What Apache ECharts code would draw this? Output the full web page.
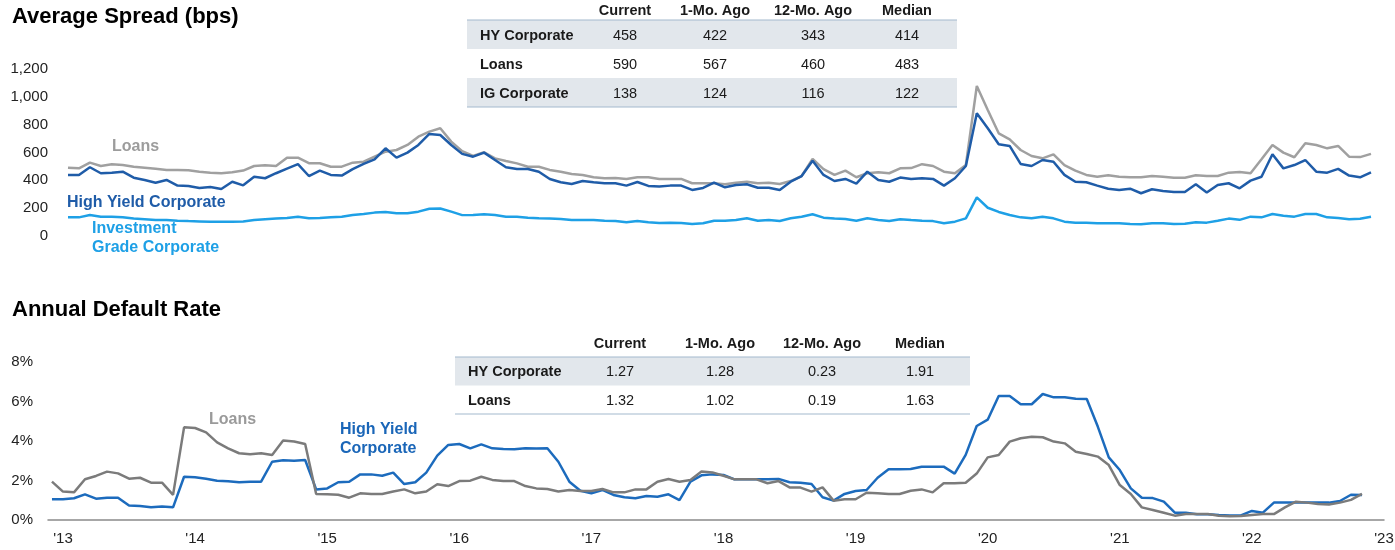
<!DOCTYPE html>
<html>
<head>
<meta charset="utf-8">
<script src="https://cdn.jsdelivr.net/npm/echarts@6.0.0/dist/echarts.min.js"></script>
<style>
  body { margin: 0; background: #fff; }
  #main { width: 1395px; height: 550px; }
</style>
</head>
<body>
<div id="main"></div>
<script>
// spreads, monthly (bps)
const hySpread = [439, 439, 494, 451, 455, 462, 419, 403, 383, 403, 362, 360, 345, 352, 338, 390, 364, 426, 415, 451,
  484, 516, 431, 470, 439, 434, 480, 518, 551, 630, 563, 599, 654, 733, 726, 654, 590, 570, 599, 546,
  494, 482, 482, 462, 410, 386, 374, 395, 386, 379, 379, 362, 388, 360, 355, 362, 362, 331, 345, 383,
  350, 367, 372, 347, 347, 331, 390, 431, 541, 439, 395, 410, 376, 462, 403, 390, 420, 409, 415, 410,
  362, 415, 503, 882, 774, 659, 647, 518, 503, 546, 534, 439, 390, 386, 362, 340, 331, 340, 307, 336,
  324, 316, 316, 372, 312, 367, 379, 343, 398, 426, 587, 486, 510, 546, 462, 455, 482, 434, 422, 458]
const loansSpread = [491, 486, 527, 503, 515, 510, 498, 491, 484, 475, 475, 472, 462, 455, 451, 458, 470, 503, 508, 503,
  563, 563, 523, 523, 498, 498, 527, 534, 570, 606, 618, 654, 714, 750, 774, 678, 610, 576, 602, 558,
  539, 522, 498, 498, 475, 462, 446, 439, 422, 415, 417, 410, 422, 422, 410, 410, 410, 379, 379, 379,
  372, 383, 390, 379, 383, 374, 395, 431, 554, 480, 439, 470, 422, 451, 458, 451, 486, 488, 516, 503,
  462, 451, 510, 1078, 906, 738, 695, 618, 575, 558, 587, 510, 470, 439, 426, 436, 426, 422, 422, 431,
  426, 419, 419, 436, 431, 431, 455, 460, 451, 551, 654, 599, 566, 666, 654, 630, 647, 570, 567, 590]
const igSpread = [134, 134, 151, 139, 139, 134, 125, 120, 115, 115, 110, 107, 105, 103, 103, 103, 105, 115, 120, 125,
  129, 139, 127, 129, 134, 139, 151, 158, 168, 173, 163, 163, 175, 196, 198, 175, 150, 151, 156, 151,
  139, 139, 132, 127, 125, 122, 115, 115, 115, 110, 108, 98, 108, 98, 93, 96, 93, 86, 91, 110,
  110, 115, 127, 110, 115, 108, 127, 139, 156, 132, 125, 122, 110, 127, 115, 108, 121, 115, 110, 107,
  91, 103, 127, 278, 203, 173, 151, 134, 127, 139, 127, 103, 96, 96, 91, 91, 91, 86, 84, 91,
  91, 86, 88, 98, 96, 110, 125, 116, 139, 134, 158, 146, 139, 158, 158, 134, 129, 120, 124, 138]

// default rates, monthly (%), first point Dec '12
const hyDefault = [1.05, 1.05, 1.10, 1.30, 1.08, 1.13, 1.13, 0.73, 0.71, 0.64, 0.68, 0.64, 2.19, 2.16, 2.09, 1.99, 1.96, 1.91, 1.94, 1.94,
  2.95, 3.02, 3.00, 3.04, 1.55, 1.60, 1.91, 1.94, 2.31, 2.31, 2.24, 2.40, 1.82, 1.91, 2.40, 3.26, 3.80, 3.85, 3.63, 3.83,
  3.63, 3.59, 3.58, 3.63, 3.62, 3.63, 2.95, 1.94, 1.48, 1.35, 1.52, 1.27, 1.15, 1.10, 1.22, 1.18, 1.30, 1.01, 1.94, 2.26,
  2.31, 2.28, 2.06, 2.06, 2.06, 2.06, 2.08, 1.91, 1.89, 1.82, 1.15, 0.98, 1.32, 1.47, 1.52, 2.14, 2.57, 2.57, 2.58, 2.70,
  2.70, 2.70, 2.35, 3.30, 4.76, 5.08, 6.28, 6.28, 5.86, 5.86, 6.38, 6.21, 6.21, 6.14, 6.13, 4.73, 3.17, 2.53, 1.60, 1.13,
  1.11, 0.93, 0.37, 0.37, 0.29, 0.29, 0.25, 0.23, 0.23, 0.46, 0.37, 0.88, 0.88, 0.88, 0.88, 0.88, 0.88, 0.96, 1.28, 1.27]
const loansDefault = [1.94, 1.44, 1.40, 2.06, 2.23, 2.45, 2.36, 2.09, 2.14, 1.89, 1.89, 1.27, 4.69, 4.66, 4.44, 3.93, 3.63, 3.38, 3.33, 3.38,
  3.29, 4.02, 3.97, 3.85, 1.32, 1.30, 1.28, 1.13, 1.35, 1.32, 1.32, 1.44, 1.55, 1.35, 1.44, 1.81, 1.72, 1.97, 1.99, 2.19,
  2.03, 1.97, 1.97, 1.72, 1.60, 1.57, 1.44, 1.52, 1.47, 1.47, 1.57, 1.40, 1.40, 1.55, 1.55, 1.94, 2.08, 1.94, 2.03, 2.46,
  2.41, 2.24, 2.06, 2.06, 2.06, 1.86, 1.97, 1.65, 1.64, 1.44, 1.65, 0.98, 1.05, 1.05, 1.38, 1.35, 1.32, 1.32, 1.48, 1.55,
  1.40, 1.86, 1.86, 1.89, 2.35, 3.17, 3.29, 3.97, 4.14, 4.22, 4.19, 3.97, 3.88, 3.46, 3.34, 3.21, 2.78, 1.77, 1.32, 0.64,
  0.51, 0.37, 0.22, 0.30, 0.30, 0.30, 0.22, 0.19, 0.20, 0.25, 0.30, 0.30, 0.64, 0.93, 0.88, 0.81, 0.78, 0.88, 1.02, 1.32]

const yearLabels = ["'13", "'14", "'15", "'16", "'17", "'18", "'19", "'20", "'21", "'22", "'23"]

// tables
const tableCols = ['Current', '1-Mo. Ago', '12-Mo. Ago', 'Median']
const spreadRows = ['HY Corporate', 'Loans', 'IG Corporate']
const spreadVals = [[458, 422, 343, 414], [590, 567, 460, 483], [138, 124, 116, 122]]
const defaultRows = ['HY Corporate', 'Loans']
const defaultVals = [['1.27', '1.28', '0.23', '1.91'], ['1.32', '1.02', '0.19', '1.63']]

const FONT = '"Liberation Sans", Arial, sans-serif'
const BAND = '#e2e7ec'
const RULE = '#a3b9cd'

function txt(x, y, s, opt) {
  opt = opt || {}
  return {
    type: 'text', x: x, y: y, silent: true,
    style: {
      text: String(s), fill: opt.color || '#1a1a1a', fontFamily: FONT,
      fontSize: opt.size || 14.5, fontWeight: opt.bold ? 'bold' : 'normal',
      align: opt.align || 'left', verticalAlign: 'middle'
    }
  }
}

// table: headers row, shaded bands on even rows, rule on top and bottom
function buildTable(x0, x1, colX, headY, top, rowH, rows, vals) {
  const els = []
  rows.forEach(function (r, k) {
    const y = top + k * rowH
    if (k % 2 === 0) {
      els.push({ type: 'rect', silent: true, shape: { x: x0, y: y, width: x1 - x0, height: rowH }, style: { fill: BAND } })
    }
  })
  const bottom = top + rows.length * rowH
  els.push({ type: 'line', silent: true, shape: { x1: x0, y1: top, x2: x1, y2: top }, style: { stroke: RULE, lineWidth: 1.2 } })
  els.push({ type: 'line', silent: true, shape: { x1: x0, y1: bottom, x2: x1, y2: bottom }, style: { stroke: RULE, lineWidth: 1.2 } })
  tableCols.forEach(function (c, j) {
    els.push(txt(colX[j], headY, c, { bold: true, align: 'center' }))
  })
  rows.forEach(function (r, k) {
    const cy = top + k * rowH + rowH / 2 + 1
    els.push(txt(x0 + 13, cy, r, { bold: true }))
    vals[k].forEach(function (v, j) {
      els.push(txt(colX[j], cy, v, { align: 'center' }))
    })
  })
  return els
}

const myChart = echarts.init(document.getElementById('main'))

const graphics = [].concat(
  [
    txt(12, 17, 'Average Spread (bps)', { bold: true, size: 22, color: '#000' }),
    txt(12, 310, 'Annual Default Rate', { bold: true, size: 22, color: '#000' }),
    txt(112, 147, 'Loans', { bold: true, size: 16, color: '#9c9c9c' }),
    txt(67, 203, 'High Yield Corporate', { bold: true, size: 16, color: '#1f5ca8' }),
    txt(92, 229, 'Investment', { bold: true, size: 16, color: '#1ea0e6' }),
    txt(92, 248, 'Grade Corporate', { bold: true, size: 16, color: '#1ea0e6' }),
    txt(209, 420, 'Loans', { bold: true, size: 16, color: '#9a9a9a' }),
    txt(340, 430, 'High Yield', { bold: true, size: 16, color: '#1a66b8' }),
    txt(340, 449, 'Corporate', { bold: true, size: 16, color: '#1a66b8' })
  ],
  buildTable(467, 957, [625, 715, 813, 907], 11, 20, 29, spreadRows, spreadVals),
  buildTable(455, 970, [620, 720, 822, 920], 344, 357, 28.5, defaultRows, defaultVals)
)

function line(xi, yi, data, color, shift) {
  return {
    type: 'line', xAxisIndex: xi, yAxisIndex: yi,
    data: data.map(function (v, i) { return [i + shift, v] }),
    showSymbol: false, symbol: 'none', silent: true,
    lineStyle: { color: color, width: 2.5 },
    itemStyle: { color: color }
  }
}

myChart.setOption({
  animation: false,
  textStyle: { fontFamily: FONT },
  grid: [
    { left: 68, right: 24, top: 69, bottom: 314, outerBoundsMode: 'none' },
    { left: 48, right: 11, top: 362, bottom: 30, outerBoundsMode: 'none' }
  ],
  xAxis: [
    { gridIndex: 0, type: 'value', min: 0, max: hySpread.length - 1, show: false },
    {
      gridIndex: 1, type: 'value', min: -1.36, max: 120,
      axisLine: { show: true, lineStyle: { color: '#8a8a8a', width: 1.5 } },
      axisTick: { show: false },
      splitLine: { show: false },
      axisLabel: {
        customValues: yearLabels.map(function (_, k) { return k * 12 }),
        formatter: function (v) { return yearLabels[Math.round(v / 12)] },
        color: '#222', fontSize: 15, margin: 11, hideOverlap: false
      }
    }
  ],
  yAxis: [
    {
      gridIndex: 0, type: 'value', min: 0, max: 1200, interval: 200,
      axisLine: { show: false }, axisTick: { show: false }, splitLine: { show: false },
      axisLabel: {
        color: '#222', fontSize: 15, margin: 20,
        formatter: function (v) { return v.toLocaleString('en-US') }
      }
    },
    {
      gridIndex: 1, type: 'value', min: 0, max: 8, interval: 2,
      axisLine: { show: false }, axisTick: { show: false }, splitLine: { show: false },
      axisLabel: { color: '#222', fontSize: 15, margin: 15, formatter: '{value}%' }
    }
  ],
  graphic: graphics,
  series: [
    line(0, 0, igSpread, '#1ea0e6', 0),
    line(0, 0, loansSpread, '#a0a0a0', 0),
    line(0, 0, hySpread, '#1f5ca8', 0),
    line(1, 1, hyDefault, '#1c6bbd', -1),
    line(1, 1, loansDefault, '#7b7b7b', -1)
  ]
})
</script>
</body>
</html>
